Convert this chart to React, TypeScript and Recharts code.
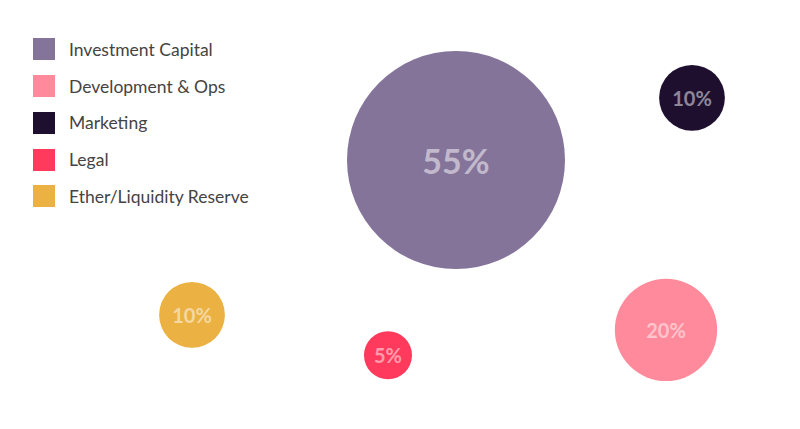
import { ScatterChart, Scatter, XAxis, YAxis, ZAxis } from 'recharts';

const categories = ['Investment Capital', 'Development & Ops', 'Marketing', 'Legal', 'Ether/Liquidity Reserve'];
const shares = [55, 20, 10, 5, 10];
// bubble placement in a 0-100 layout space
const posX = [57.0, 83.25, 86.5, 48.5, 24.0];
const posY = [62.7, 23.1, 77.2, 17.2, 26.6];
const colors = ['#85749a', '#fe8a9b', '#1e0f2f', '#ff3a5c', '#ebb143'];

const FONT = 'Lato, "Open Sans", sans-serif';

// bubbles grow a bit faster than area-proportional
const SIZE_EXP = 1.6;
const sizeKey = (d: any) => Math.pow(d.z, SIZE_EXP);

const Bubble = (props: any) => {
  const { cx, cy, width, fill, payload } = props;
  const r = width / 2;
  const big = r > 80;
  return (
    <g>
      <circle cx={cx} cy={cy} r={r} fill={fill} />
      <text
        x={cx}
        y={cy}
        textAnchor="middle"
        dominantBaseline="central"
        fill="#ffffff"
        fillOpacity={0.5}
        fontFamily={FONT}
        fontSize={big ? 34 : 20}
        fontWeight={700}
      >
        {payload.z}%
      </text>
    </g>
  );
};

export default function App() {
  return (
    <div style={{ position: 'absolute', top: 0, left: 0, width: 800, height: 429, background: '#fff' }}>
      <ScatterChart width={800} height={429} margin={{ top: 0, right: 0, bottom: 0, left: 0 }}>
        <XAxis type="number" dataKey="x" domain={[0, 100]} hide />
        <YAxis type="number" dataKey="y" domain={[0, 100]} hide />
        <ZAxis
          type="number"
          dataKey={sizeKey}
          domain={[Math.pow(5, SIZE_EXP), Math.pow(55, SIZE_EXP)]}
          range={[1810, 37326]}
        />
        {categories.map((name, i) => (
          <Scatter
            key={name}
            name={name}
            data={[{ x: posX[i], y: posY[i], z: shares[i] }]}
            fill={colors[i]}
            shape={<Bubble />}
            isAnimationActive={false}
          />
        ))}
      </ScatterChart>

      {/* legend */}
      <div style={{ position: 'absolute', left: 33, top: 31, fontFamily: FONT }}>
        {categories.map((name, i) => (
          <div key={name} style={{ display: 'flex', alignItems: 'center', height: 36.75 }}>
            <div style={{ width: 22, height: 22, background: colors[i], marginRight: 14 }}></div>
            <span style={{ fontSize: 17.5, color: '#444444' }}>{name}</span>
          </div>
        ))}
      </div>
    </div>
  );
}
